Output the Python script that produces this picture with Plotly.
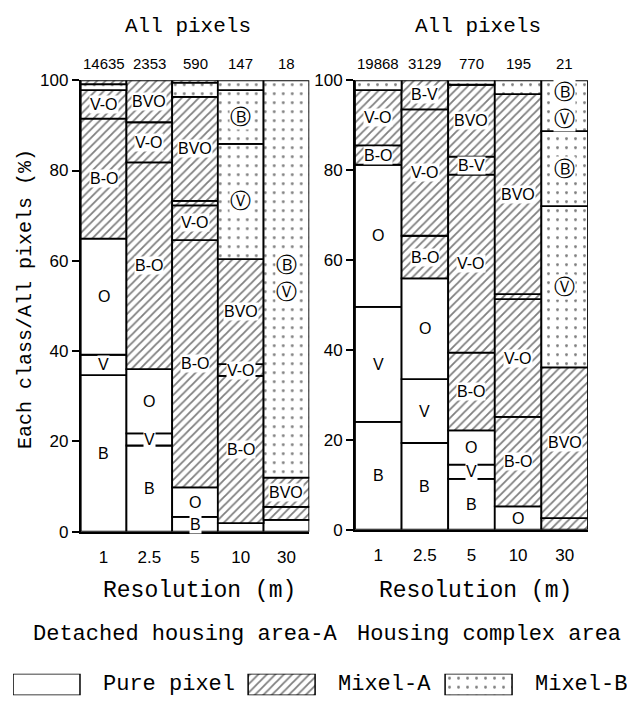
import plotly.graph_objects as go

resolutions = ["1", "2.5", "5", "10", "30"]
detached_totals = [14635, 2353, 590, 147, 18]
complex_totals = [19868, 3129, 770, 195, 21]
legend_names = ["Pure pixel", "Mixel-A", "Mixel-B"]

# every bar is listed bottom -> top: share of all pixels (%), pixel type, class label
detached_shares = [
    [34.7, 4.5, 25.7, 26.6, 6.3, 1.3, 0.9],
    [19.1, 2.7, 14.2, 45.8, 8.9, 9.3],
    [3.3, 6.5, 54.8, 7.7, 1.0, 23.0, 3.1, 0.6],
    [1.9, 32.6, 2.6, 23.3, 25.5, 11.9, 2.2],
    [2.6, 2.9, 6.5, 88.0],
]
detached_types = [
    ["pure", "pure", "pure", "A", "A", "B", "A"],
    ["pure", "pure", "pure", "A", "A", "A"],
    ["pure", "pure", "A", "A", "A", "A", "B", "A"],
    ["pure", "A", "A", "A", "B", "B", "B"],
    ["pure", "A", "A", "B"],
]
detached_classes = [
    ["B", "V", "O", "B-O", "V-O", "", ""],
    ["B", "V", "O", "B-O", "V-O", "BVO"],
    ["B", "O", "B-O", "V-O", "", "BVO", "", ""],
    ["", "B-O", "V-O", "BVO", "Ⓥ", "Ⓑ", ""],
    ["", "", "BVO", "Ⓑ<br>Ⓥ"],
]

complex_shares = [
    [24.0, 25.6, 31.6, 4.3, 12.3, 2.2],
    [19.3, 14.2, 22.4, 9.5, 28.1, 6.5],
    [11.3, 3.2, 7.6, 17.3, 39.6, 4.0, 16.0, 1.0],
    [5.2, 19.9, 26.2, 1.1, 44.5, 3.1],
    [2.6, 33.5, 35.9, 16.7, 11.3],
]
complex_types = [
    ["pure", "pure", "pure", "A", "A", "B"],
    ["pure", "pure", "pure", "A", "A", "A"],
    ["pure", "pure", "pure", "A", "A", "A", "A", "B"],
    ["pure", "A", "A", "A", "A", "B"],
    ["A", "A", "B", "B", "B"],
]
complex_classes = [
    ["B", "V", "O", "B-O", "V-O", ""],
    ["B", "V", "O", "B-O", "V-O", "B-V"],
    ["B", "V", "O", "B-O", "V-O", "B-V", "BVO", ""],
    ["O", "B-O", "V-O", "", "BVO", ""],
    ["", "BVO", "Ⓥ", "Ⓑ", "Ⓑ<br>Ⓥ"],
]

MONO = "Liberation Mono, Courier New, monospace"
SANS = "Liberation Sans, Arial, sans-serif"
CIRCLED = "DejaVu Sans, sans-serif"


def pattern(kind):
    if kind == "A":
        return dict(shape="/", fgcolor="black", bgcolor="white", size=6, solidity=0.3)
    if kind == "B":
        return dict(shape=".", fgcolor="black", bgcolor="white", size=9, solidity=0.08)
    return dict(shape="")


fig = go.Figure()
annotations = []


def add_panel(shares, types, classes, totals, xa, ya):
    # one trace per pixel type, each segment sits on the cumulative share below it
    for kind in ["pure", "A", "B"]:
        xs, ys, bases = [], [], []
        for res, bar_shares, bar_types in zip(resolutions, shares, types):
            bottom = 0
            for s, t in zip(bar_shares, bar_types):
                if t == kind:
                    xs.append(res)
                    ys.append(s)
                    bases.append(bottom)
                bottom += s
        fig.add_trace(go.Bar(
            x=xs, y=ys, base=bases, width=1, xaxis=xa, yaxis=ya,
            marker=dict(color="white", line=dict(color="black", width=1.8), pattern=pattern(kind)),
            showlegend=False, hoverinfo="skip",
        ))

    for i, (bar_shares, bar_classes) in enumerate(zip(shares, classes)):
        bottom = 0
        for s, c in zip(bar_shares, bar_classes):
            if c:
                circled = "Ⓑ" in c or "Ⓥ" in c
                annotations.append(dict(
                    x=i, y=bottom + s / 2, xref=xa, yref=ya, text=c, showarrow=False,
                    xanchor="center", yanchor="middle",
                    font=dict(family=CIRCLED if circled else SANS, size=21 if circled else 16, color="black"),
                    bgcolor="white", borderpad=0,
                ))
            bottom += s

    for i, n in enumerate(totals):
        annotations.append(dict(
            x=i, y=0.947, xref=xa, yref="paper", text=str(n), showarrow=False,
            xanchor="center", font=dict(family=SANS, size=15, color="black"),
        ))


add_panel(detached_shares, detached_types, detached_classes, detached_totals, "x", "y")
add_panel(complex_shares, complex_types, complex_classes, complex_totals, "x2", "y2")

# legend swatches drawn as bars on their own little axis
legend_offsets = [-0.5, -0.366, -0.416]
for i, (name, kind) in enumerate(zip(legend_names, ["pure", "A", "B"])):
    fig.add_trace(go.Bar(
        x=[i], y=[1], width=0.323, offset=legend_offsets[i], xaxis="x3", yaxis="y3",
        marker=dict(color="white", line=dict(color="black", width=1.5), pattern=pattern(kind)),
        showlegend=False, hoverinfo="skip",
    ))
    annotations.append(dict(
        x=i + legend_offsets[i] + 0.323 + 0.1, y=0.5, xref="x3", yref="y3", text=name,
        xanchor="left", showarrow=False, font=dict(family=MONO, size=22, color="black"),
    ))

texts = [
    ("All pixels", 0.287, 0.986, 21, 0),
    ("All pixels", 0.750, 0.986, 21, 0),
    ("Resolution (m)", 0.306, 0.1595, 23, 0),
    ("Resolution (m)", 0.746, 0.1595, 23, 0),
    ("Detached housing area-A", 0.282, 0.0954, 22, 0),
    ("Housing complex area", 0.767, 0.0954, 22, 0),
    ("Each class/All pixels (%)", 0.027, 0.587, 20, -90),
]
for t, x, y, size, angle in texts:
    annotations.append(dict(
        x=x, y=y, xref="paper", yref="paper", text=t, showarrow=False, textangle=angle,
        xanchor="center", yanchor="middle",
        font=dict(family=MONO, size=size, color="black"),
    ))

xaxis_style = dict(
    type="category", range=[-0.5, 4.5], showline=True, linecolor="black", linewidth=1.8,
    ticks="", showgrid=False, zeroline=False, ticklabelstandoff=9,
    tickfont=dict(family=SANS, size=17, color="black"),
)
yaxis_style = dict(
    range=[0, 100], tickvals=[0, 20, 40, 60, 80, 100], ticks="outside", ticklen=7, tickwidth=1.5,
    tickcolor="black", showline=True, linecolor="black", linewidth=1.8, showgrid=False,
    zeroline=False, tickfont=dict(family=SANS, size=17, color="black"),
)

# the page body adds an 8px margin, so the figure is 8px smaller than the window
fig.update_layout(
    width=627, height=702,
    margin=dict(l=0, r=0, t=0, b=0),
    paper_bgcolor="white", plot_bgcolor="white",
    barmode="overlay",
    xaxis=dict(domain=[0.116, 0.4805], **xaxis_style),
    yaxis=dict(domain=[0.2464, 0.9074], anchor="x", **yaxis_style),
    xaxis2=dict(domain=[0.5534, 0.925], anchor="y2", **xaxis_style),
    yaxis2=dict(domain=[0.2493, 0.9074], anchor="x2", **yaxis_style),
    xaxis3=dict(domain=[0.008, 1.0], anchor="y3", range=[-0.5, 2.5], visible=False),
    yaxis3=dict(domain=[0.007, 0.0385], anchor="x3", range=[0, 1], visible=False),
    annotations=annotations,
    showlegend=False,
)

fig.write_html("out.html")
